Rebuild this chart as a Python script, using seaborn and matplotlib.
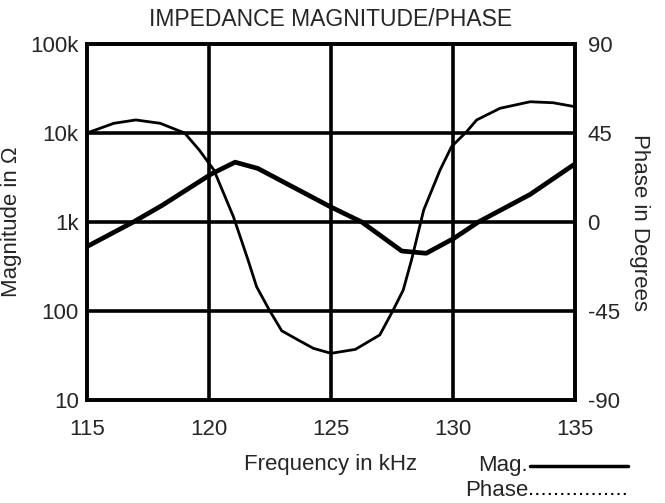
import numpy as np
import pandas as pd
import matplotlib
matplotlib.use("Agg")
import matplotlib.pyplot as plt
import seaborn as sns
from matplotlib.lines import Line2D

# Magnitude (thick line)
mag_freq = [115.0, 116.9, 118.1, 120.1, 121.07, 122.0, 124.96, 126.26, 127.9, 128.9, 130.04, 131.04, 133.16, 135.0]
mag_ohm = [530, 1000, 1550, 3470, 4700, 4000, 1490, 1000, 472, 445, 656, 1000, 2040, 4500]

# Phase (thin line)
ph_freq = [115.0, 116.1, 117.0, 118.0, 119.0, 119.6, 120.2, 121.0, 121.6, 121.95, 122.47, 122.98,
           123.66, 124.28, 125.0, 126.0, 127.0, 127.55, 127.96, 128.3, 128.8, 129.47, 129.94,
           130.56, 130.97, 131.93, 133.16, 134.1, 135.0]
ph_deg = [45, 49.9, 51.6, 49.9, 45, 36.4, 26.3, 2.7, -19.2, -32.7, -44.5, -55,
          -59.7, -63.9, -66.4, -64.4, -57.1, -44.5, -34.4, -19.2, 6.1, 26.3, 38.1,
          45.7, 51.6, 57.5, 60.8, 60.3, 58.3]

x_ticks = [115, 120, 125, 130, 135]
mag_ticks = [10, 100, 1000, 10000, 100000]
mag_labels = ["10", "100", "1k", "10k", "100k"]
ph_ticks = [-90, -45, 0, 45, 90]
ph_labels = ["-90", "-45", "0", "45", "90"]

sns.set_style("white")
plt.rcParams["font.family"] = ["Liberation Sans", "DejaVu Sans"]
plt.rcParams["font.size"] = 16

fig = plt.figure(figsize=(6.65, 5.03), dpi=100)
ax = fig.add_axes([87 / 665, 1 - 400 / 503, (575 - 87) / 665, (400 - 44) / 503])
ax2 = ax.twinx()

mag_df = pd.DataFrame({"freq": mag_freq, "mag": mag_ohm})
ph_df = pd.DataFrame({"freq": ph_freq, "phase": ph_deg})

sns.lineplot(data=mag_df, x="freq", y="mag", ax=ax, color="black", linewidth=3.4, zorder=5)
sns.lineplot(data=ph_df, x="freq", y="phase", ax=ax2, color="black", linewidth=2.0, zorder=5)

ax.set_yscale("log")
ax.set_xlim(115, 135)
ax.set_ylim(10, 100000)
ax2.set_ylim(-90, 90)

ax.set_xticks(x_ticks)
ax.set_xticklabels([str(t) for t in x_ticks], fontsize=16)
ax.set_yticks(mag_ticks)
ax.set_yticklabels(mag_labels, fontsize=16)
ax.yaxis.set_minor_locator(matplotlib.ticker.NullLocator())
ax2.set_yticks(ph_ticks)
ax2.set_yticklabels(ph_labels, fontsize=16)

ax.tick_params(axis="both", length=0, pad=6)
ax.tick_params(axis="x", pad=14)
ax2.tick_params(axis="y", length=0, pad=9)

for t in x_ticks[1:-1]:
    ax.axvline(t, color="black", linewidth=2.6, zorder=1)
for m in mag_ticks[1:-1]:
    ax.axhline(m, color="black", linewidth=2.6, zorder=1)

for a in (ax, ax2):
    for s in a.spines.values():
        s.set_color("black")
        s.set_linewidth(2.6)

ax.set_xlabel("Frequency in kHz", fontsize=16, labelpad=10)
ax.set_ylabel("Magnitude in Ω", fontsize=16, labelpad=6)
ax2.set_ylabel("Phase in Degrees", fontsize=16, rotation=270, labelpad=22)
ax.set_title("IMPEDANCE MAGNITUDE/PHASE", fontsize=16.5, pad=13)

# legend drawn by hand below the plot
fig.text(528 / 665, 1 - 465 / 503, "Mag.", ha="right", va="center", fontsize=16)
fig.text(528 / 665, 1 - 490 / 503, "Phase", ha="right", va="center", fontsize=16)
fig.add_artist(Line2D([530 / 665, 628 / 665], [1 - 466 / 503, 1 - 466 / 503],
                      color="black", linewidth=2.5, transform=fig.transFigure))
fig.add_artist(Line2D([530 / 665, 628 / 665], [1 - 494 / 503, 1 - 494 / 503],
                      color="black", linewidth=1.5, linestyle=(0, (1, 2)),
                      transform=fig.transFigure))

fig.savefig("out.png", dpi=100)
